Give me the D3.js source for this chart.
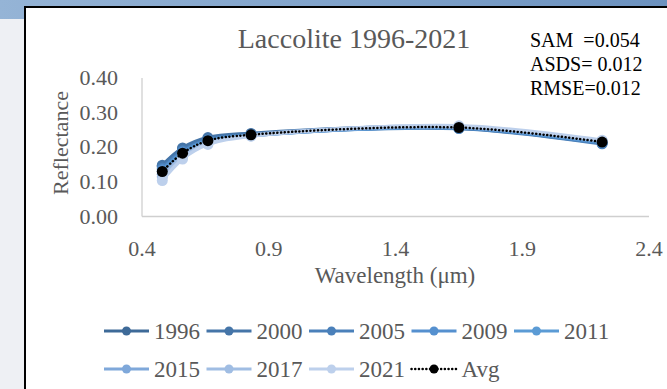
<!DOCTYPE html>
<html>
<head>
  <meta charset="utf-8">
  <title>Laccolite 1996-2021</title>
  <style>
    body { margin: 0; }
    text { font-family: "Liberation Serif", "Times New Roman", serif; }
  </style>
</head>
<body>
  <svg width="667" height="389"></svg>
  <script src="https://d3js.org/d3.v7.min.js"></script>
  <script>
  // wavelengths (um) of the band centres
  var wavelengths = [0.48, 0.56, 0.66, 0.83, 1.65, 2.215];

  var years = ["1996", "2000", "2005", "2009", "2011", "2015", "2017", "2021"];
  var colors = ["#3e6a98", "#4575a8", "#4a80ba", "#5590cf", "#5b9bd5", "#7fa8da", "#a0bde3", "#bdd0ec"];

  var r1996 = [0.145, 0.195, 0.225, 0.238, 0.255, 0.212];
  var r2000 = [0.148, 0.198, 0.228, 0.240, 0.258, 0.214];
  var r2005 = [0.140, 0.190, 0.222, 0.236, 0.254, 0.210];
  var r2009 = [0.135, 0.186, 0.220, 0.235, 0.256, 0.213];
  var r2011 = [0.130, 0.182, 0.218, 0.234, 0.257, 0.215];
  var r2015 = [0.122, 0.176, 0.214, 0.233, 0.258, 0.217];
  var r2017 = [0.115, 0.172, 0.212, 0.235, 0.260, 0.218];
  var r2021 = [0.104, 0.166, 0.208, 0.232, 0.262, 0.220];
  var avg   = [0.130, 0.183, 0.219, 0.236, 0.257, 0.215];

  var xTicks = [0.4, 0.9, 1.4, 1.9, 2.4];
  var yTicks = [0, 0.1, 0.2, 0.3, 0.4];
  var stats = ["SAM  =0.054", "ASDS= 0.012", "RMSE=0.012"];

  var series = [r1996, r2000, r2005, r2009, r2011, r2015, r2017, r2021];

  var svg = d3.select("svg");

  // backdrop (screenshot surroundings)
  var defs = svg.append("defs");
  var grad = defs.append("linearGradient").attr("id", "topbar");
  grad.append("stop").attr("offset", "0%").attr("stop-color", "#95b4d6");
  grad.append("stop").attr("offset", "100%").attr("stop-color", "#6c92bf");
  svg.append("rect").attr("width", 667).attr("height", 389).attr("fill", "#eef0f4");
  svg.append("rect").attr("width", 667).attr("height", 19).attr("fill", "url(#topbar)");

  // chart box
  svg.append("rect").attr("x", 25).attr("y", 7).attr("width", 650).attr("height", 390)
    .attr("fill", "#fff").attr("stroke", "#000").attr("stroke-width", 2);

  var x = d3.scaleLinear().domain([0.4, 2.4]).range([142, 649]);
  var y = d3.scaleLinear().domain([0, 0.4]).range([216.5, 78]);

  // axes lines
  svg.append("line").attr("x1", 142).attr("x2", 142).attr("y1", 78).attr("y2", 216.5)
    .attr("stroke", "#cfcfcf").attr("stroke-width", 1.3);
  svg.append("line").attr("x1", 142).attr("x2", 649).attr("y1", 216.5).attr("y2", 216.5)
    .attr("stroke", "#cfcfcf").attr("stroke-width", 1.3);

  svg.selectAll(".ytick").data(yTicks).enter().append("text")
    .attr("class", "ytick")
    .attr("x", 118).attr("y", function(d) { return y(d) + 7; })
    .attr("text-anchor", "end").attr("fill", "#595959").style("font-size", "22px")
    .text(function(d) { return d3.format(".2f")(d); });

  svg.selectAll(".xtick").data(xTicks).enter().append("text")
    .attr("class", "xtick")
    .attr("x", function(d) { return x(d); }).attr("y", 256)
    .attr("text-anchor", "middle").attr("fill", "#595959").style("font-size", "22px")
    .text(function(d) { return d3.format(".1f")(d); });

  svg.append("text").attr("x", 395).attr("y", 283).attr("text-anchor", "middle")
    .attr("fill", "#595959").style("font-size", "23px").text("Wavelength (\u03bcm)");

  svg.append("text").attr("transform", "translate(68,143) rotate(-90)").attr("text-anchor", "middle")
    .attr("fill", "#595959").style("font-size", "22px").text("Reflectance");

  svg.append("text").attr("x", 354).attr("y", 48).attr("text-anchor", "middle")
    .attr("fill", "#595959").style("font-size", "28px").text("Laccolite 1996-2021");

  svg.selectAll(".stat").data(stats).enter().append("text")
    .attr("class", "stat")
    .attr("x", 530).attr("y", function(d, i) { return 47 + i * 24; })
    .attr("fill", "#000").style("font-size", "20px").style("white-space", "pre")
    .text(function(d) { return d; });

  // lines
  var line = d3.line()
    .x(function(d, i) { return x(wavelengths[i]); })
    .y(function(d) { return y(d); })
    .curve(d3.curveCatmullRom.alpha(0.5));

  series.forEach(function(s, k) {
    var g = svg.append("g");
    g.append("path").attr("d", line(s)).attr("fill", "none")
      .attr("stroke", colors[k]).attr("stroke-width", 3.5).attr("stroke-linecap", "round");
    g.selectAll("circle").data(s).enter().append("circle")
      .attr("cx", function(d, i) { return x(wavelengths[i]); })
      .attr("cy", function(d) { return y(d); })
      .attr("r", 5.5).attr("fill", colors[k]);
  });

  var ga = svg.append("g");
  ga.append("path").attr("d", line(avg)).attr("fill", "none")
    .attr("stroke", "#000").attr("stroke-width", 2.5)
    .attr("stroke-dasharray", "0.1,3.6").attr("stroke-linecap", "round");
  ga.selectAll("circle").data(avg).enter().append("circle")
    .attr("cx", function(d, i) { return x(wavelengths[i]); })
    .attr("cy", function(d) { return y(d); })
    .attr("r", 5.5).attr("fill", "#000");

  // legend
  var legendItems = years.map(function(yr, i) { return { name: yr, color: colors[i], dotted: false }; });
  legendItems.push({ name: "Avg", color: "#000", dotted: true });

  var leg = svg.selectAll(".leg").data(legendItems).enter().append("g")
    .attr("class", "leg")
    .attr("transform", function(d, i) {
      return "translate(" + (104 + (i % 5) * 102.5) + "," + (i < 5 ? 331 : 369) + ")";
    });
  leg.append("line").attr("x1", 0).attr("x2", 45)
    .attr("stroke", function(d) { return d.color; })
    .attr("stroke-width", function(d) { return d.dotted ? 2.5 : 3; })
    .attr("stroke-dasharray", function(d) { return d.dotted ? "0.1,3.6" : null; })
    .attr("stroke-linecap", function(d) { return d.dotted ? "round" : "butt"; });
  leg.append("circle").attr("cx", 22.5).attr("r", 4.5).attr("fill", function(d) { return d.color; });
  leg.append("text").attr("x", 50).attr("y", 8)
    .attr("fill", "#595959").style("font-size", "23px")
    .text(function(d) { return d.name; });
  </script>
</body>
</html>
